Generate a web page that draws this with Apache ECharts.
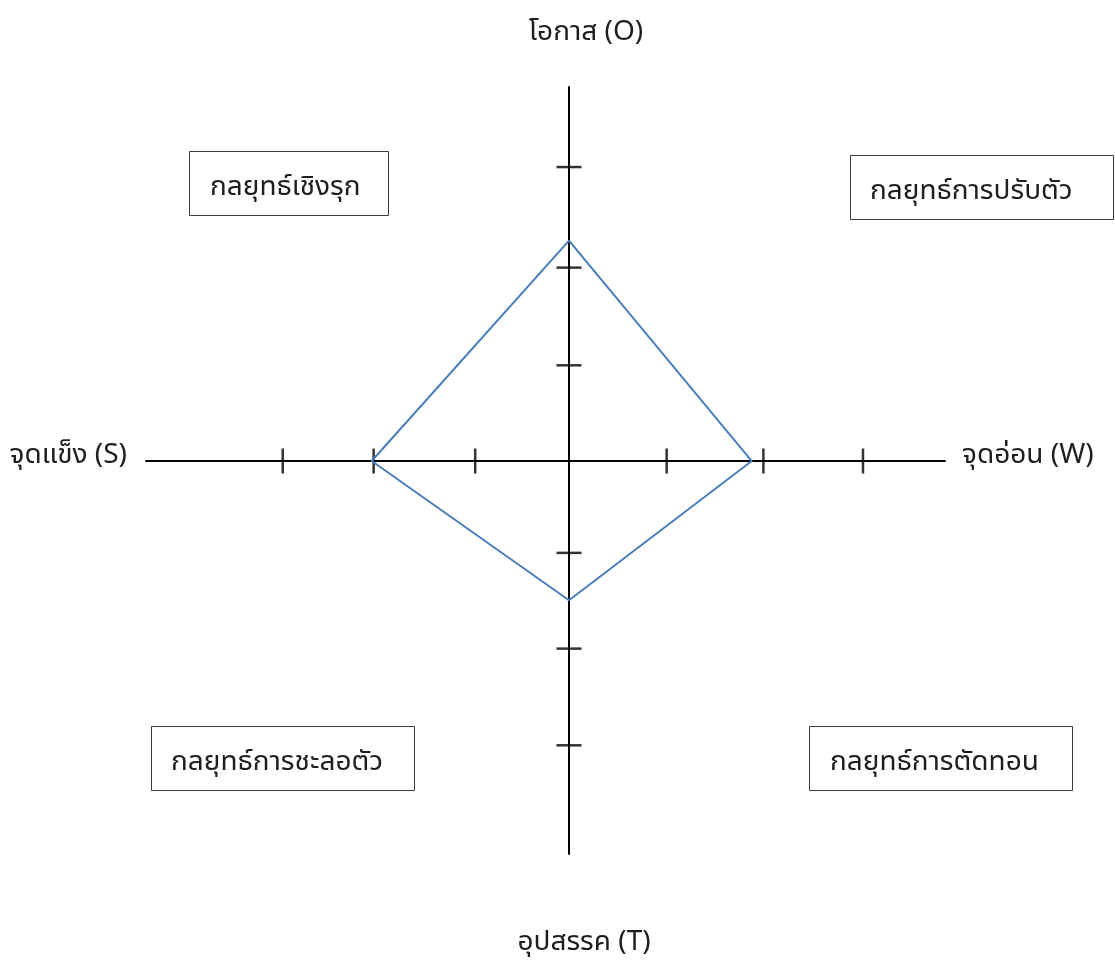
<!DOCTYPE html>
<html>
<head>
<meta charset="utf-8">
<script src="https://cdn.jsdelivr.net/npm/echarts@6/dist/echarts.min.js"></script>
<style>
html,body{margin:0;padding:0;background:#fff;}
#chart{width:1115px;height:961px;}
</style>
</head>
<body>
<div id="chart"></div>
<script>
// Axis names (S, W, O, T)
const axisNames = ['จุดแข็ง (S)', 'จุดอ่อน (W)', 'โอกาส (O)', 'อุปสรรค (T)'];
// Quadrant strategies
const strategies = ['กลยุทธ์เชิงรุก', 'กลยุทธ์การปรับตัว', 'กลยุทธ์การชะลอตัว', 'กลยุทธ์การตัดทอน'];
// Tick positions on each axis (in axis units)
const xTickValues = [-2.96, -2.02, -0.97, 1.01, 2.01, 3.04];
const yTickValues = [3.04, 2.00, 0.99, -0.95, -1.94, -2.94];
// Scores: S (left, negative x), W (right), O (up), T (down)
const scoreS = 2.04;
const scoreW = 1.89;
const scoreO = 2.28;
const scoreT = 1.44;
// Axis extents
const xRange = [-4.374, 3.888];
const yRange = [-4.064, 3.868];

const FONT = '"Noto Sans Thai UI", "Noto Sans Thai", "Leelawadee UI", "Noto Sans", sans-serif';
const FS = '28px ';

const polygon = [
  [0, scoreO],
  [scoreW, 0],
  [0, -scoreT],
  [-scoreS, 0],
  [0, scoreO]
];

const chart = echarts.init(document.getElementById('chart'));

function box(x, y, w, h, tx, label) {
  return [
    {type: 'rect', shape: {x: x + 0.5, y: y + 0.5, width: w, height: h},
     style: {fill: '#fff', stroke: '#3a3a3a', lineWidth: 1}, z: 10},
    {type: 'text', x: tx, y: y + h / 2 + 4,
     style: {text: label, font: FS + FONT, fill: '#1e1e1e', textVerticalAlign: 'middle', textAlign: 'left'}, z: 11}
  ];
}

chart.setOption({
  animation: false,
  backgroundColor: '#fff',
  grid: {left: 146, right: 170, top: 87, bottom: 107},
  xAxis: {
    type: 'value', min: xRange[0], max: xRange[1],
    axisLine: {show: true, onZero: true, lineStyle: {color: '#000', width: 2}},
    axisTick: {show: false}, axisLabel: {show: false}, splitLine: {show: false}
  },
  yAxis: {
    type: 'value', min: yRange[0], max: yRange[1],
    axisLine: {show: true, onZero: true, lineStyle: {color: '#000', width: 2}},
    axisTick: {show: false}, axisLabel: {show: false}, splitLine: {show: false}
  },
  series: [
    {
      type: 'scatter', silent: true,
      symbol: 'rect', symbolSize: [2.5, 25],
      itemStyle: {color: '#000'},
      data: xTickValues.map(v => [v, 0]), z: 3
    },
    {
      type: 'scatter', silent: true,
      symbol: 'rect', symbolSize: [25, 2.5],
      itemStyle: {color: '#000'},
      data: yTickValues.map(v => [0, v]), z: 3
    },
    {
      type: 'line', silent: true,
      data: polygon, showSymbol: false, symbol: 'none',
      lineStyle: {color: '#4a7ebb', width: 2},
      z: 4
    }
  ],
  graphic: [
    {type: 'text', x: 586, y: 32, style: {text: axisNames[2], font: FS + FONT, fill: '#1e1e1e', textAlign: 'center', textVerticalAlign: 'middle'}},
    {type: 'text', x: 584, y: 942, style: {text: axisNames[3], font: FS + FONT, fill: '#1e1e1e', textAlign: 'center', textVerticalAlign: 'middle'}},
    {type: 'text', x: 127, y: 455, style: {text: axisNames[0], font: FS + FONT, fill: '#1e1e1e', textAlign: 'right', textVerticalAlign: 'middle'}},
    {type: 'text', x: 962, y: 455, style: {text: axisNames[1], font: FS + FONT, fill: '#1e1e1e', textAlign: 'left', textVerticalAlign: 'middle'}},
    ...box(189, 151, 199, 64, 210, strategies[0]),
    ...box(850, 155, 263, 64, 870, strategies[1]),
    ...box(151, 726, 263, 64, 171, strategies[2]),
    ...box(809, 726, 263, 64, 830, strategies[3])
  ]
});
</script>
</body>
</html>
